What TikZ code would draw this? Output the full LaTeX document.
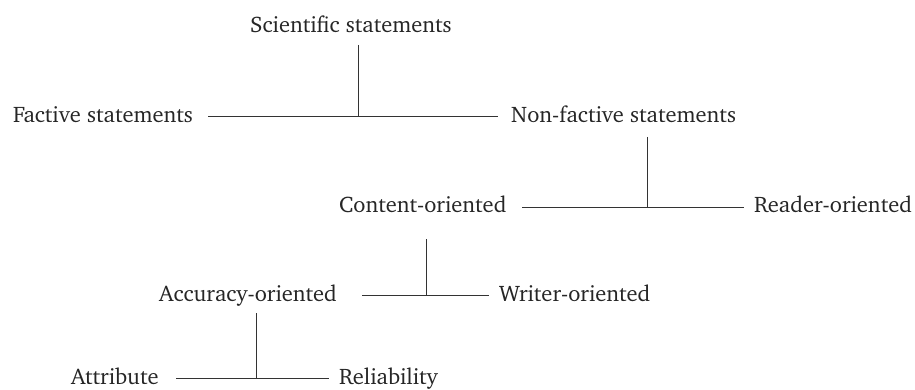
\documentclass[tikz,border=0pt]{standalone}
\usepackage[T1]{fontenc}
\usepackage{charter}
\begin{document}
\begin{tikzpicture}[x=1pt,y=-1pt,
  term/.style={inner sep=0pt,anchor=base west,font=\fontsize{22.5}{27}\selectfont,text=black!85},
  branch/.style={draw=black!80,line width=1pt}]
\useasboundingbox (0,0) rectangle (915,390);
% category labels
\node[term] (sci)  at (250,33)  {Scientific statements};
\node[term] (fact) at (13,123)  {Factive statements};
\node[term] (nonf) at (511,123) {Non-factive statements};
\node[term] (cont) at (339,212) {Content-oriented};
\node[term] (read) at (754,212) {Reader-oriented};
\node[term] (accu) at (159,301) {Accuracy-oriented};
\node[term] (writ) at (499,301) {Writer-oriented};
\node[term] (attr) at (71,384)  {Attribute};
\node[term] (reli) at (339,384) {Reliability};
% junction points and line ends
\coordinate (s1) at (358,45);  \coordinate (j1) at (358,117);
\coordinate (a1) at (208,117); \coordinate (b1) at (498,117);
\coordinate (s2) at (647,137); \coordinate (j2) at (647,207);
\coordinate (a2) at (522,207); \coordinate (b2) at (744,207);
\coordinate (s3) at (426,239); \coordinate (j3) at (426,295);
\coordinate (a3) at (362,295); \coordinate (b3) at (489,295);
\coordinate (s4) at (256,313); \coordinate (j4) at (256,378);
\coordinate (a4) at (176,378); \coordinate (b4) at (329,378);
% branches
\draw[branch] (s1) -- (j1);  \draw[branch] (a1) -- (b1);
\draw[branch] (s2) -- (j2);  \draw[branch] (a2) -- (b2);
\draw[branch] (s3) -- (j3);  \draw[branch] (a3) -- (b3);
\draw[branch] (s4) -- (j4);  \draw[branch] (a4) -- (b4);
\end{tikzpicture}
\end{document}
